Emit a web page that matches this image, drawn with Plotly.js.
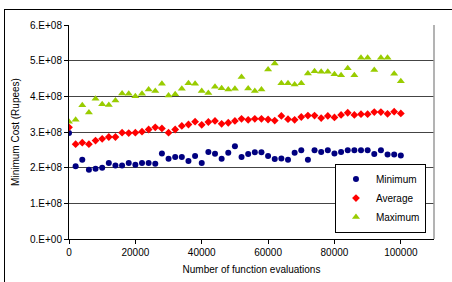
<!DOCTYPE html>
<html>
<head>
<meta charset="utf-8">
<script src="https://cdn.plot.ly/plotly-3.0.1.min.js"></script>
<style>
  html, body { margin: 0; padding: 0; background: #fff; overflow: hidden; width: 452px; height: 282px; }
  #chart { position: absolute; left: 0; top: 0; width: 452px; height: 282px; }
  #frame { position: absolute; left: 4px; top: 9px; width: 500px; height: 400px; border: 1.5px solid #000; pointer-events: none; }
</style>
</head>
<body>
<div id="chart"></div>
<div id="frame"></div>
<script>
const evaluations = [0,2000,4000,6000,8000,10000,12000,14000,16000,18000,20000,22000,24000,26000,28000,30000,32000,34000,36000,38000,40000,42000,44000,46000,48000,50000,52000,54000,56000,58000,60000,62000,64000,66000,68000,70000,72000,74000,76000,78000,80000,82000,84000,86000,88000,90000,92000,94000,96000,98000,100000];

const minimumCost = [2.97e8,2.04e8,2.22e8,1.94e8,1.97e8,2.00e8,2.13e8,2.06e8,2.06e8,2.13e8,2.08e8,2.13e8,2.13e8,2.11e8,2.40e8,2.25e8,2.30e8,2.30e8,2.19e8,2.33e8,2.13e8,2.44e8,2.39e8,2.25e8,2.42e8,2.60e8,2.30e8,2.38e8,2.43e8,2.43e8,2.33e8,2.24e8,2.26e8,2.22e8,2.42e8,2.49e8,2.22e8,2.49e8,2.44e8,2.49e8,2.40e8,2.44e8,2.49e8,2.49e8,2.49e8,2.49e8,2.38e8,2.49e8,2.37e8,2.37e8,2.34e8];

const averageCost = [3.13e8,2.66e8,2.70e8,2.66e8,2.76e8,2.81e8,2.86e8,2.86e8,2.98e8,2.97e8,2.98e8,3.01e8,3.07e8,3.13e8,3.10e8,2.98e8,3.07e8,3.17e8,3.21e8,3.29e8,3.20e8,3.28e8,3.31e8,3.23e8,3.26e8,3.31e8,3.37e8,3.34e8,3.37e8,3.37e8,3.35e8,3.32e8,3.45e8,3.36e8,3.34e8,3.42e8,3.46e8,3.46e8,3.39e8,3.45e8,3.41e8,3.48e8,3.54e8,3.48e8,3.50e8,3.50e8,3.56e8,3.56e8,3.51e8,3.57e8,3.52e8];

const maximumCost = [3.29e8,3.34e8,3.75e8,3.55e8,3.93e8,3.78e8,3.76e8,3.88e8,4.08e8,4.07e8,4.00e8,4.07e8,4.19e8,4.15e8,4.35e8,4.02e8,4.06e8,4.21e8,4.37e8,4.35e8,4.15e8,4.09e8,4.27e8,4.23e8,4.19e8,4.21e8,4.54e8,4.22e8,4.15e8,4.19e8,4.75e8,4.92e8,4.37e8,4.37e8,4.33e8,4.37e8,4.64e8,4.70e8,4.69e8,4.69e8,4.62e8,4.59e8,4.79e8,4.59e8,5.08e8,5.08e8,4.74e8,5.08e8,5.08e8,4.63e8,4.42e8];

const seriesNames = ['Minimum','Average','Maximum'];
const yTickVals = [0,1e8,2e8,3e8,4e8,5e8,6e8];
const yTickText = ['0.E+00','1.E+08','2.E+08','3.E+08','4.E+08','5.E+08','6.E+08'];
const xTickVals = [0,20000,40000,60000,80000,100000];
const xTickText = ['0','20000','40000','60000','80000','100000'];

const FONT = 'Liberation Sans, Arial, sans-serif';

const traces = [
  { x: evaluations, y: minimumCost, name: seriesNames[0], type: 'scatter', mode: 'markers',
    marker: { symbol: 'circle', color: '#000080', size: 6 } },
  { x: evaluations, y: averageCost, name: seriesNames[1], type: 'scatter', mode: 'markers',
    marker: { symbol: 'diamond', color: '#FF0000', size: 6 } },
  { x: evaluations, y: maximumCost, name: seriesNames[2], type: 'scatter', mode: 'markers',
    marker: { symbol: 'triangle-up', color: '#99CC00', size: 7 } }
];

const layout = {
  width: 452, height: 282,
  margin: { l: 69, r: 18, t: 25, b: 43, pad: 0 },
  paper_bgcolor: 'rgba(0,0,0,0)', plot_bgcolor: '#fff',
  font: { family: FONT, size: 10, color: '#000' },
  showlegend: true,
  legend: {
    x: 0.978, y: 0.03, xanchor: 'right', yanchor: 'bottom',
    bgcolor: '#fff', bordercolor: '#000', borderwidth: 1,
    font: { family: FONT, size: 10, color: '#000' },
    itemwidth: 30, tracegroupgap: 0
  },
  xaxis: {
    range: [0, 110000], tickvals: xTickVals, ticktext: xTickText,
    showgrid: false, zeroline: false,
    showline: true, linecolor: '#000', linewidth: 1,
    ticks: 'outside', ticklen: 4, tickcolor: '#000', tickwidth: 1,
    tickfont: { family: FONT, size: 10 },
    title: { text: 'Number of function evaluations', font: { family: FONT, size: 10 }, standoff: 8 },
    automargin: false
  },
  yaxis: {
    range: [0, 6e8], tickvals: yTickVals, ticktext: yTickText,
    showgrid: true, gridcolor: '#444', gridwidth: 1, zeroline: false,
    showline: true, linecolor: '#000', linewidth: 1,
    ticks: 'outside', ticklen: 4, tickcolor: '#000', tickwidth: 1,
    tickfont: { family: FONT, size: 10 },
    title: { text: 'Minimum Cost (Rupees)', font: { family: FONT, size: 10 }, standoff: 8 },
    automargin: false
  },
  shapes: [
    { type: 'line', xref: 'paper', yref: 'paper', x0: 1, x1: 1, y0: 0, y1: 1,
      line: { color: '#9a9a9a', width: 1.5 } }
  ]
};

Plotly.newPlot('chart', traces, layout, { displayModeBar: false, staticPlot: true });
</script>
</body>
</html>
